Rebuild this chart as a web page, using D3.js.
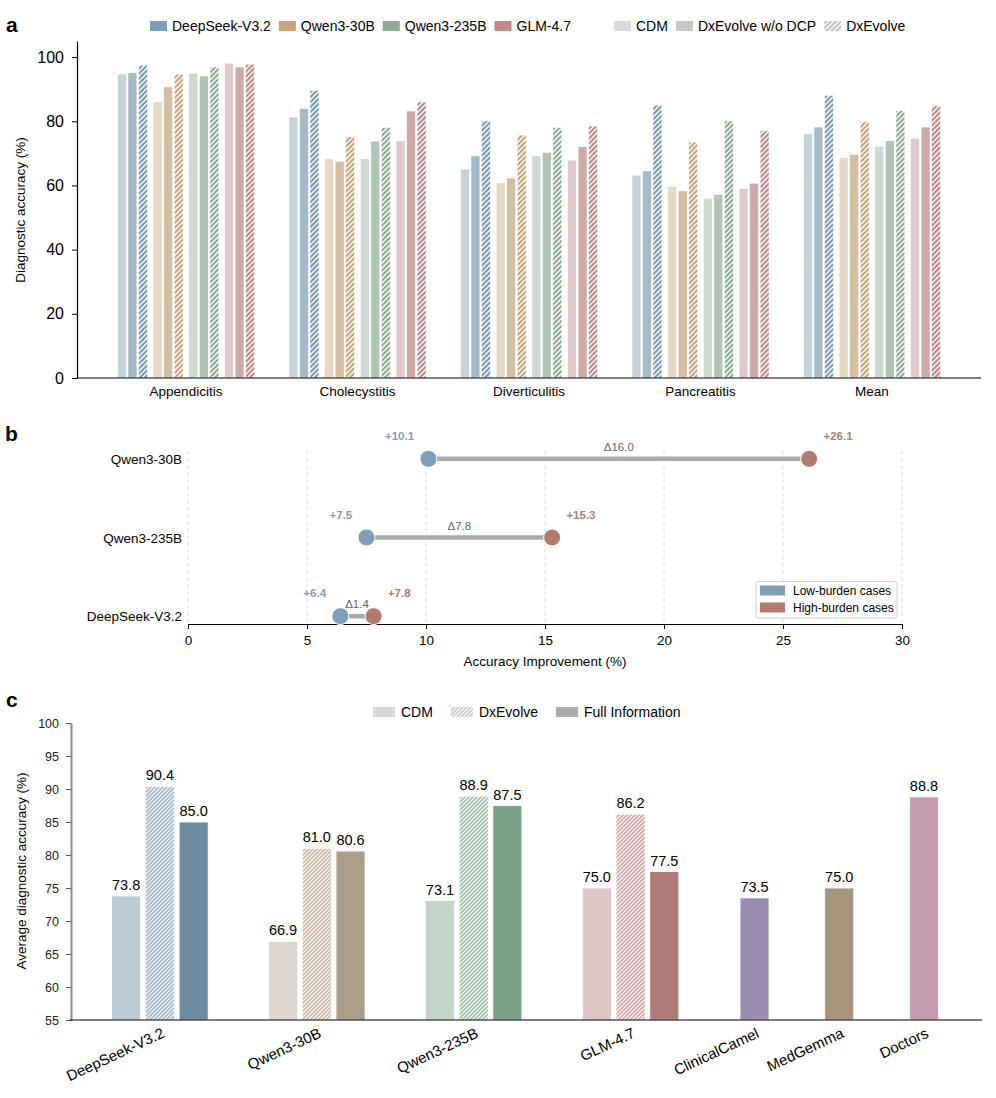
<!DOCTYPE html>
<html>
<head>
<meta charset="utf-8">
<script src="https://cdn.jsdelivr.net/npm/d3@7"></script>
<style>
  body { margin: 0; background: #fff; }
  svg { font-family: "Liberation Sans", Arial, sans-serif; }
</style>
</head>
<body>
<div id="chart"></div>
<script>
// ---- data: panel a (diagnostic accuracy per pathology) ----
var diseases = ["Appendicitis", "Cholecystitis", "Diverticulitis", "Pancreatitis", "Mean"];
var models = ["DeepSeek-V3.2", "Qwen3-30B", "Qwen3-235B", "GLM-4.7"];
var conditions = ["CDM", "DxEvolve w/o DCP", "DxEvolve"];

var deepseekCDM   = [94.7, 81.3, 65.1, 63.2, 76.1];
var deepseekNoDCP = [95.1, 84.0, 69.2, 64.5, 78.2];
var deepseekDx    = [97.5, 89.6, 80.2, 85.0, 88.1];
var qwen30CDM     = [86.1, 68.3, 60.9, 59.6, 68.7];
var qwen30NoDCP   = [90.7, 67.5, 62.3, 58.3, 69.7];
var qwen30Dx      = [94.7, 75.2, 75.7, 73.5, 79.8];
var qwen235CDM    = [94.9, 68.3, 69.2, 56.0, 72.1];
var qwen235NoDCP  = [94.1, 73.8, 70.3, 57.2, 73.9];
var qwen235Dx     = [96.9, 78.1, 78.1, 80.1, 83.3];
var glmCDM        = [98.1, 73.9, 67.9, 59.0, 74.7];
var glmNoDCP      = [96.9, 83.2, 72.1, 60.7, 78.2];
var glmDx         = [97.8, 86.0, 78.5, 77.0, 84.8];

// ---- data: panel b (improvement by case burden) ----
var burdenModels = ["DeepSeek-V3.2", "Qwen3-235B", "Qwen3-30B"];
var lowBurden  = [6.4, 7.5, 10.1];
var highBurden = [7.8, 15.3, 26.1];

// ---- data: panel c (average accuracy) ----
var cModels = ["DeepSeek-V3.2", "Qwen3-30B", "Qwen3-235B", "GLM-4.7", "ClinicalCamel", "MedGemma", "Doctors"];
var cCDM  = [73.8, 66.9, 73.1, 75.0];
var cDx   = [90.4, 81.0, 88.9, 86.2];
var cFull = [85.0, 80.6, 87.5, 77.5];
var baselineAcc = [73.5, 75.0, 88.8];   // ClinicalCamel, MedGemma, Doctors

// colours
var colA = {
  "DeepSeek-V3.2": ["#c3d4dd", "#a3bac8", "#7b9db3"],
  "Qwen3-30B":     ["#e6d8c5", "#d5bd9f", "#c8a57a"],
  "Qwen3-235B":    ["#cdd9d1", "#b0c4b5", "#8fab95"],
  "GLM-4.7":       ["#e1c9cb", "#cfa8a8", "#c08a8b"]
};
var colC = [
  ["#bdcdd7", "#a3b9c9", "#6d8ca2"],
  ["#ddd5cf", "#c9baab", "#ad9e8a"],
  ["#c3d6c9", "#a2c0a9", "#7da089"],
  ["#dcc6c6", "#cfaaa9", "#ae7b79"]
];
var colSingle = ["#9a8db1", "#a6957b", "#c59caf"];
var lowCol = "#7f9db8", highCol = "#b27b71";

var svg = d3.select("#chart").append("svg")
  .attr("width", 996).attr("height", 1098);
var defs = svg.append("defs");

// hatch pattern factory (/// white lines on coloured ground)
var patN = 0;
function hatch(color, s, w) {
  var id = "hatch" + (patN++);
  var p = defs.append("pattern").attr("id", id)
    .attr("patternUnits", "userSpaceOnUse")
    .attr("width", s).attr("height", s);
  p.append("rect").attr("width", s).attr("height", s).attr("fill", color);
  p.append("path")
    .attr("d", "M0," + s + " L" + s + ",0 M" + (-s / 2) + "," + (s / 2) + " L" + (s / 2) + "," + (-s / 2) +
               " M" + (s / 2) + "," + (1.5 * s) + " L" + (1.5 * s) + "," + (s / 2))
    .attr("stroke", "#fff").attr("stroke-width", w);
  return "url(#" + id + ")";
}

function panelLabel(t, x, y) {
  svg.append("text").attr("x", x).attr("y", y).text(t)
    .attr("font-size", "21px").attr("font-weight", "bold").attr("fill", "#000");
}

// ================= panel a =================
var gA = svg.append("g");
var yA = d3.scaleLinear().domain([0, 105]).range([378, 41]);
var xA = d3.scaleBand().domain(diseases).range([100.25, 957.75]).paddingInner(0);
var xM = d3.scaleBand().domain(models).range([0, 137.1]).paddingInner(0.16);
var xK = d3.scaleBand().domain([0, 1, 2]).range([0, xM.bandwidth()]).paddingInner(0.15);

var seriesA = {
  "DeepSeek-V3.2": [deepseekCDM, deepseekNoDCP, deepseekDx],
  "Qwen3-30B":     [qwen30CDM, qwen30NoDCP, qwen30Dx],
  "Qwen3-235B":    [qwen235CDM, qwen235NoDCP, qwen235Dx],
  "GLM-4.7":       [glmCDM, glmNoDCP, glmDx]
};
var barsA = [];
diseases.forEach(function(d, i) {
  models.forEach(function(m) {
    [0, 1, 2].forEach(function(k) {
      barsA.push({disease: d, model: m, k: k, v: seriesA[m][k][i]});
    });
  });
});
var hatchA = {};
models.forEach(function(m) { hatchA[m] = hatch(colA[m][2], 5, 1.3); });

gA.selectAll("rect.bar").data(barsA).enter().append("rect")
  .attr("class", "bar")
  .attr("x", function(d) { return xA(d.disease) + (xA.bandwidth() - 137.1) / 2 + xM(d.model) + xK(d.k); })
  .attr("y", function(d) { return yA(d.v); })
  .attr("width", xK.bandwidth())
  .attr("height", function(d) { return yA(0) - yA(d.v); })
  .attr("fill", function(d) { return d.k == 2 ? hatchA[d.model] : colA[d.model][d.k]; })
  .attr("stroke", "#fff").attr("stroke-width", 0.6);

var axA = gA.append("g").attr("transform", "translate(77,0)")
  .call(d3.axisLeft(yA).tickValues([0, 20, 40, 60, 80, 100]).tickSize(5).tickSizeOuter(0).tickPadding(8));
axA.selectAll("text").attr("font-size", "16px").attr("fill", "#000").attr("font-family", null);
axA.select(".domain").attr("stroke", "#000").attr("stroke-width", 1.2);
gA.append("line").attr("x1", 77).attr("x2", 981).attr("y1", 378).attr("y2", 378)
  .attr("stroke", "#000").attr("stroke-width", 1.2);
gA.selectAll("text.xlab").data(diseases).enter().append("text")
  .attr("x", function(d) { return xA(d) + xA.bandwidth() / 2; })
  .attr("y", 396).attr("text-anchor", "middle").attr("font-size", "13.5px")
  .text(function(d) { return d; });
gA.append("text").attr("transform", "translate(25,210) rotate(-90)")
  .attr("text-anchor", "middle").attr("font-size", "13.5px").text("Diagnostic accuracy (%)");

// legend a
var legX = 150;
models.forEach(function(m) {
  gA.append("rect").attr("x", legX).attr("y", 21).attr("width", 17).attr("height", 10).attr("fill", colA[m][2]);
  var t = gA.append("text").attr("x", legX + 22).attr("y", 31).attr("font-size", "14px").text(m);
  legX += 22 + t.node().getComputedTextLength() + 8;
});
legX = 614;
var legCondFill = ["#dcdcdc", "#c8c8c8", hatch("#c4c4c4", 5, 1.3)];
conditions.forEach(function(c, k) {
  gA.append("rect").attr("x", legX).attr("y", 21).attr("width", 17).attr("height", 10).attr("fill", legCondFill[k]);
  var t = gA.append("text").attr("x", legX + 22).attr("y", 31).attr("font-size", "14px").text(c);
  legX += 22 + t.node().getComputedTextLength() + 8;
});
panelLabel("a", 6, 32);

// ================= panel b =================
var gB = svg.append("g");
var xB = d3.scaleLinear().domain([0, 30]).range([188, 902]);
var yB = d3.scaleLinear().domain([-0.1, 2.1]).range([624, 451]);

gB.selectAll("line.grid").data(d3.range(0, 31, 5)).enter().append("line")
  .attr("x1", xB).attr("x2", xB).attr("y1", 451).attr("y2", 624)
  .attr("stroke", "#dedede").attr("stroke-dasharray", "4,3").attr("stroke-width", 1);

var axB = gB.append("g").attr("transform", "translate(0,624)")
  .call(d3.axisBottom(xB).tickValues(d3.range(0, 31, 5)).tickSize(5).tickSizeOuter(0).tickPadding(6));
axB.selectAll("text").attr("font-size", "13.5px").attr("fill", "#000").attr("font-family", null);
axB.select(".domain").attr("stroke-width", 1.2);
gB.append("text").attr("x", 545).attr("y", 666).attr("text-anchor", "middle")
  .attr("font-size", "13.5px").text("Accuracy Improvement (%)");

var rowsB = burdenModels.map(function(m, i) { return {m: m, i: i, lo: lowBurden[i], hi: highBurden[i]}; });
gB.selectAll("text.ylab").data(rowsB).enter().append("text")
  .attr("x", 182).attr("y", function(d) { return yB(d.i) + 5; })
  .attr("text-anchor", "end").attr("font-size", "13.5px").text(function(d) { return d.m; });
gB.selectAll("line.conn").data(rowsB).enter().append("line")
  .attr("x1", function(d) { return xB(d.lo); }).attr("x2", function(d) { return xB(d.hi); })
  .attr("y1", function(d) { return yB(d.i); }).attr("y2", function(d) { return yB(d.i); })
  .attr("stroke", "#a9a9a9").attr("stroke-width", 4.5);
gB.selectAll("circle.lo").data(rowsB).enter().append("circle")
  .attr("cx", function(d) { return xB(d.lo); }).attr("cy", function(d) { return yB(d.i); })
  .attr("r", 8.5).attr("fill", lowCol).attr("stroke", "#fff").attr("stroke-width", 1);
gB.selectAll("circle.hi").data(rowsB).enter().append("circle")
  .attr("cx", function(d) { return xB(d.hi); }).attr("cy", function(d) { return yB(d.i); })
  .attr("r", 8.5).attr("fill", highCol).attr("stroke", "#fff").attr("stroke-width", 1);
gB.selectAll("text.lov").data(rowsB).enter().append("text")
  .attr("x", function(d) { return xB(d.lo - 0.6); }).attr("y", function(d) { return yB(d.i) - 19; })
  .attr("text-anchor", "end").attr("font-size", "11.5px").attr("font-weight", "bold").attr("fill", lowCol)
  .text(function(d) { return "+" + d.lo.toFixed(1); });
gB.selectAll("text.hiv").data(rowsB).enter().append("text")
  .attr("x", function(d) { return xB(d.hi + 0.6); }).attr("y", function(d) { return yB(d.i) - 19; })
  .attr("font-size", "11.5px").attr("font-weight", "bold").attr("fill", highCol)
  .text(function(d) { return "+" + d.hi.toFixed(1); });
gB.selectAll("text.delta").data(rowsB).enter().append("text")
  .attr("x", function(d) { return xB((d.lo + d.hi) / 2); }).attr("y", function(d) { return yB(d.i) - 8; })
  .attr("text-anchor", "middle").attr("font-size", "11.5px").attr("fill", "#666")
  .text(function(d) { return "\u0394" + (d.hi - d.lo).toFixed(1); });

// legend b
var lgB = gB.append("g");
lgB.append("rect").attr("x", 756).attr("y", 581.5).attr("width", 141).attr("height", 36.5).attr("rx", 2)
  .attr("fill", "#fff").attr("fill-opacity", 0.9).attr("stroke", "#d0d0d0");
[["Low-burden cases", lowCol], ["High-burden cases", highCol]].forEach(function(e, i) {
  lgB.append("rect").attr("x", 760).attr("y", 585.5 + i * 17).attr("width", 25).attr("height", 10).attr("fill", e[1]);
  lgB.append("text").attr("x", 793).attr("y", 595 + i * 17).attr("font-size", "12px").text(e[0]);
});
panelLabel("b", 5, 441);

// ================= panel c =================
var gC = svg.append("g");
var slotC = [0, 1, 2, 3, 3.79, 4.33, 4.87];       // layout slots for the 7 groups
var xC = d3.scaleLinear().domain([-0.573, 5.24]).range([70, 982]);
var yC = d3.scaleLinear().domain([55, 100]).range([1020, 723]);
var barW = 0.185, barStep = 0.215;

var barsC = [];
cCDM.forEach(function(v, i) {
  barsC.push({slot: slotC[i] - barStep, v: v, fill: colC[i][0]});
  barsC.push({slot: slotC[i], v: cDx[i], fill: hatch(colC[i][1], 4, 1.1)});
  barsC.push({slot: slotC[i] + barStep, v: cFull[i], fill: colC[i][2]});
});
baselineAcc.forEach(function(v, j) {
  barsC.push({slot: slotC[4 + j], v: v, fill: colSingle[j]});
});

gC.selectAll("rect.bar").data(barsC).enter().append("rect")
  .attr("x", function(d) { return xC(d.slot - barW / 2); })
  .attr("y", function(d) { return yC(d.v); })
  .attr("width", xC(barW) - xC(0))
  .attr("height", function(d) { return yC(55) - yC(d.v); })
  .attr("fill", function(d) { return d.fill; })
  .attr("stroke", "#fff").attr("stroke-width", 0.8);
gC.selectAll("text.val").data(barsC).enter().append("text")
  .attr("x", function(d) { return xC(d.slot); })
  .attr("y", function(d) { return yC(d.v) - 6; })
  .attr("text-anchor", "middle").attr("font-size", "14.5px")
  .text(function(d) { return d.v.toFixed(1); });

var axC = gC.append("g").attr("transform", "translate(71,0)")
  .call(d3.axisLeft(yC).tickValues(d3.range(55, 101, 5)).tickSize(5).tickSizeOuter(0).tickPadding(7));
axC.selectAll("text").attr("font-size", "12.5px").attr("fill", "#222").attr("font-family", null);
axC.select(".domain").attr("stroke", "#8c8c8c").attr("stroke-width", 2);
axC.selectAll(".tick line").attr("stroke", "#555");
gC.append("line").attr("x1", 70).attr("x2", 982).attr("y1", 1020).attr("y2", 1020)
  .attr("stroke", "#000").attr("stroke-width", 1.2);
gC.selectAll("text.xlab").data(cModels).enter().append("text")
  .attr("transform", function(d, i) { return "translate(" + (xC(slotC[i]) + 1) + ",1027) rotate(-25)"; })
  .attr("dy", "0.72em").attr("text-anchor", "end").attr("font-size", "15px")
  .text(function(d) { return d; });
gC.append("text").attr("transform", "translate(26,871) rotate(-90)")
  .attr("text-anchor", "middle").attr("font-size", "13.5px").text("Average diagnostic accuracy (%)");

// legend c
var legC = [["CDM", "#d6d6d6"], ["DxEvolve", hatch("#c8c8c8", 4, 1.1)], ["Full Information", "#ababab"]];
var lx = 373;
legC.forEach(function(e) {
  gC.append("rect").attr("x", lx).attr("y", 707).attr("width", 22).attr("height", 10).attr("fill", e[1]);
  var t = gC.append("text").attr("x", lx + 28).attr("y", 717).attr("font-size", "14px").text(e[0]);
  lx += 28 + t.node().getComputedTextLength() + 18;
});
panelLabel("c", 6, 707);
</script>
</body>
</html>
